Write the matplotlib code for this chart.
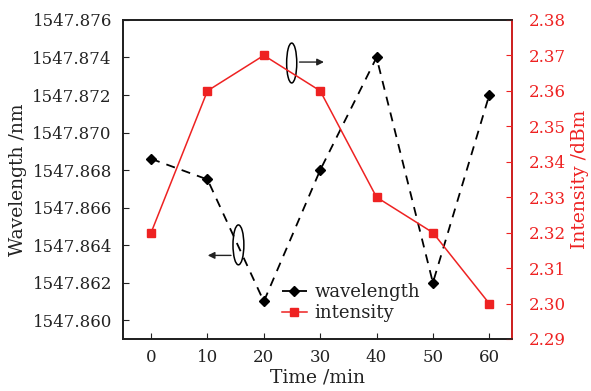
import matplotlib
matplotlib.use("Agg")
import matplotlib.pyplot as plt
from matplotlib.patches import Ellipse

plt.rcParams['font.family'] = ['DejaVu Serif']
plt.rcParams['mathtext.fontset'] = 'dejavuserif'

time_min = [0, 10, 20, 30, 40, 50, 60]
wavelength = [1547.8686, 1547.8675, 1547.8610, 1547.8680, 1547.8740, 1547.8620, 1547.8720]
intensity = [2.32, 2.36, 2.37, 2.36, 2.33, 2.32, 2.30]
wl_ticks = [1547.860, 1547.862, 1547.864, 1547.866, 1547.868, 1547.870, 1547.872, 1547.874, 1547.876]
in_ticks = [2.29, 2.30, 2.31, 2.32, 2.33, 2.34, 2.35, 2.36, 2.37, 2.38]

fig = plt.figure(figsize=(5.91, 3.91), dpi=100)
ax = fig.add_axes([0.208, 0.133, 0.658, 0.816])
ax2 = ax.twinx()

l1, = ax.plot(time_min, wavelength, color='black', ls=(0, (5, 4)), lw=1.3,
              marker='D', ms=5.5, label='wavelength')
l2, = ax2.plot(time_min, intensity, color='#ee2222', lw=1.1,
               marker='s', ms=5.5, label='intensity')

ax.set_xlim(-5, 64)
ax.set_ylim(1547.859, 1547.876)
ax.set_yticks(wl_ticks)
ax.set_yticklabels([f"{v:.3f}" for v in wl_ticks])
ax.set_xticks(time_min)
ax2.set_ylim(2.29, 2.38)
ax2.set_yticks(in_ticks)
ax2.set_yticklabels([f"{v:.2f}" for v in in_ticks])

fs = 12
lfs = 13.5
ax.tick_params(axis='both', direction='in', labelsize=fs, colors='#222222', length=4)
ax.tick_params(axis='x', pad=7)
ax.tick_params(axis='y', pad=8)
ax2.tick_params(axis='y', direction='in', labelsize=fs, colors='#ee2222', length=4, pad=12)
ax.tick_params(axis='y', right=False)
ax.set_xlabel('Time /min', fontsize=lfs, color='#222222', labelpad=2)
ax.set_ylabel('Wavelength /nm', fontsize=lfs, color='#222222', labelpad=4)
ax2.set_ylabel('Intensity /dBm', fontsize=lfs, color='#ee2222', labelpad=4)

for a in (ax, ax2):
    for s in a.spines.values():
        s.set_linewidth(1.2)
ax2.spines['right'].set_color('#ee2222')
ax2.spines['left'].set_color('#222222')
ax2.spines['bottom'].set_color('#222222')
ax2.spines['top'].set_color('#222222')

# annotations: ellipses with arrows
e1 = Ellipse((0.434, 0.865), 0.026, 0.125, transform=ax.transAxes,
             fill=False, edgecolor='black', lw=1.1)
ax2.add_patch(e1)
ax2.annotate('', xy=(0.524, 0.868), xytext=(0.447, 0.868), xycoords='axes fraction',
             arrowprops=dict(arrowstyle='-|>', color='#222222', lw=1.0, mutation_scale=10))
e2 = Ellipse((0.297, 0.295), 0.028, 0.125, transform=ax.transAxes,
             fill=False, edgecolor='black', lw=1.1)
ax2.add_patch(e2)
ax2.annotate('', xy=(0.211, 0.262), xytext=(0.285, 0.262), xycoords='axes fraction',
             arrowprops=dict(arrowstyle='-|>', color='#222222', lw=1.0, mutation_scale=10))

leg = ax2.legend(handles=[l1, l2], loc='lower left', bbox_to_anchor=(0.39, 0.03),
                 frameon=False, fontsize=13, handlelength=1.4, handletextpad=0.4,
                 labelspacing=0.15, borderaxespad=0)
for t in leg.get_texts():
    t.set_color('#222222')

fig.savefig('out.png', dpi=100)
